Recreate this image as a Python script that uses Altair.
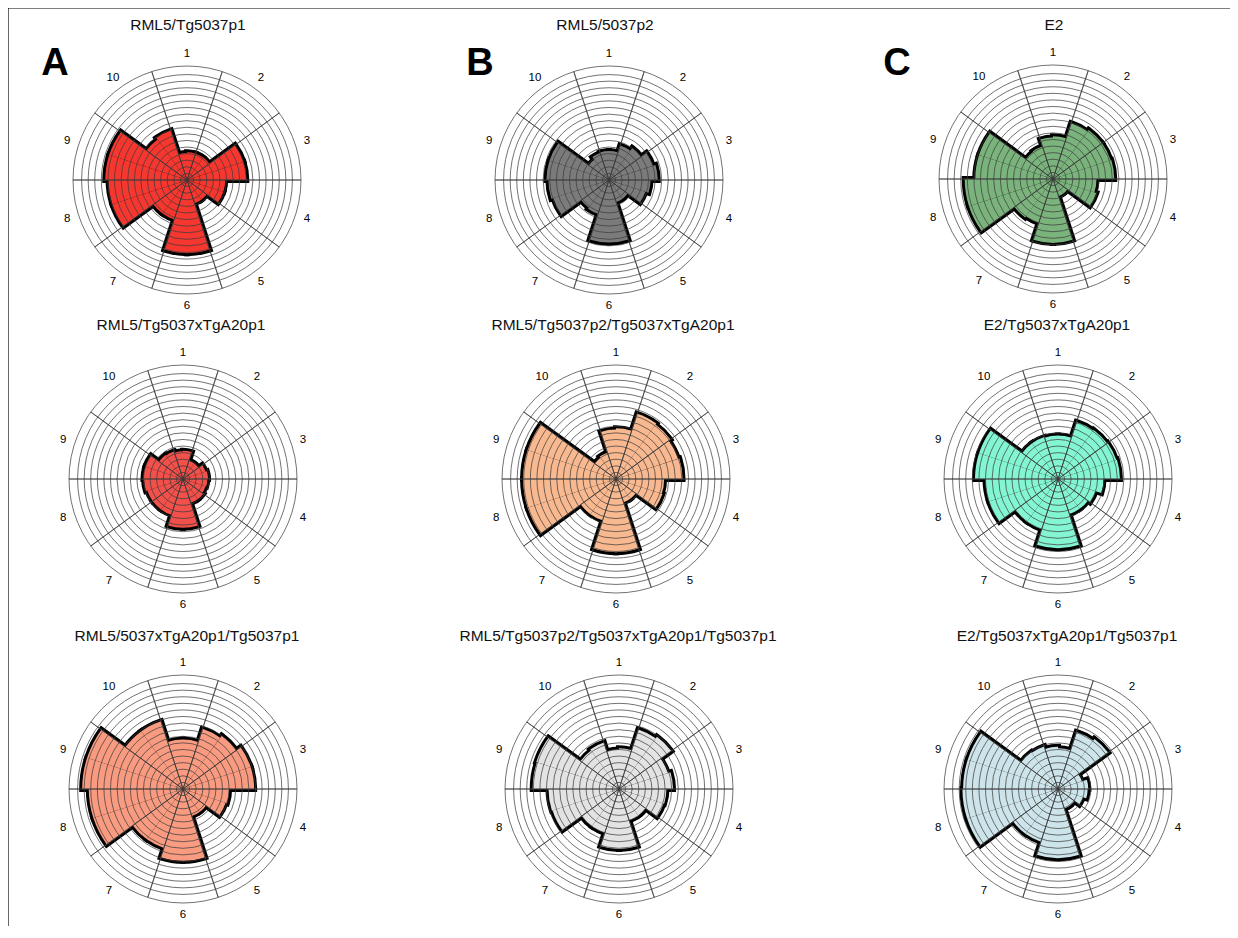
import math
import altair as alt
import pandas as pd

# ---------------- data ----------------
TITLES = [
    "RML5/Tg5037p1", "RML5/5037p2", "E2",
    "RML5/Tg5037xTgA20p1", "RML5/Tg5037p2/Tg5037xTgA20p1", "E2/Tg5037xTgA20p1",
    "RML5/5037xTgA20p1/Tg5037p1", "RML5/Tg5037p2/Tg5037xTgA20p1/Tg5037p1", "E2/Tg5037xTgA20p1/Tg5037p1",
]
COLORS = [
    "#f5372f", "#7b7b7b", "#7ab37c",
    "#f2504a", "#f9b990", "#84f5d2",
    "#f99b80", "#e3e3e3", "#cde5ea",
]
SECTOR_LABELS = ["1", "2", "3", "4", "5", "6", "7", "8", "9", "10"]

# half-sector radii (grid-ring units), two per sector, sector 1 first (clockwise from top)
V_A1 = [4.1, 4.2, 4.2, 4.2, 9.0, 9.0, 5.8, 5.8, 3.7, 3.7, 11.1, 11.1, 6.3, 6.3, 11.9, 11.9, 12.4, 12.4, 7.6, 7.9]
V_B1 = [4.4, 4.4, 5.5, 6.0, 7.0, 7.4, 6.3, 5.8, 3.5, 3.5, 9.5, 9.5, 5.4, 5.2, 8.9, 9.2, 9.5, 9.5, 3.8, 4.3]
V_C1 = [6.3, 6.5, 8.9, 9.2, 9.2, 9.3, 6.6, 6.9, 2.7, 2.7, 9.7, 9.7, 7.0, 7.2, 13.4, 13.4, 11.8, 11.8, 5.1, 5.2]
V_A2 = [4.2, 4.3, 2.9, 2.9, 3.6, 3.8, 3.7, 3.6, 3.8, 3.8, 7.4, 7.4, 5.7, 5.7, 5.7, 5.9, 6.0, 6.0, 4.5, 4.4]
V_B2 = [7.5, 7.7, 10.4, 10.2, 9.9, 10.1, 7.3, 7.4, 3.7, 3.7, 11.1, 11.1, 6.6, 6.6, 14.1, 14.1, 14.1, 14.1, 4.0, 4.2]
V_C2 = [6.6, 6.6, 9.1, 9.2, 9.3, 9.4, 6.9, 6.0, 5.6, 5.6, 10.5, 10.5, 8.0, 8.0, 11.0, 11.0, 12.6, 12.6, 6.7, 6.7]
V_A3 = [7.5, 7.5, 9.6, 10.0, 10.8, 10.8, 7.0, 6.8, 4.3, 4.3, 10.9, 10.9, 9.4, 9.4, 14.3, 14.3, 15.3, 15.3, 10.8, 10.8]
V_B3 = [6.0, 6.2, 9.5, 9.8, 7.8, 8.2, 7.2, 7.1, 5.0, 5.0, 9.1, 9.1, 7.0, 7.0, 10.6, 10.7, 13.1, 13.2, 7.2, 7.4]
V_C3 = [6.4, 6.2, 9.1, 9.4, 3.8, 4.6, 4.5, 4.0, 3.1, 3.1, 10.5, 10.5, 8.4, 8.4, 14.5, 14.5, 14.4, 14.4, 6.9, 6.8]
VALUES = [V_A1, V_B1, V_C1, V_A2, V_B2, V_C2, V_A3, V_B3, V_C3]

RINGS = [1, 2, 3, 4, 5, 6, 7, 8, 9, 10, 11, 12, 13, 14, 15, 16, 17.3]
R_MAX = 17.3
PANEL_LETTERS = ["A", "B", "C"]

# ---------------- layout (pixels inside the chart) ----------------
OFF = 8
CENTERS = [(187, 180), (609, 180), (1053, 179),
           (183, 479), (616, 479), (1058, 479),
           (183, 789), (619, 789), (1058, 789)]
TITLE_POS = [(188, 25), (605, 25), (1054, 25),
             (181, 325), (613, 325), (1057, 325),
             (187, 636), (618, 636), (1067, 636)]
LETTER_POS = [(55, 64), (480, 64), (897, 64)]
R_PIX = 114
LABEL_R = 126
FONT = "Liberation Sans, Arial, Helvetica, sans-serif"
GRID = "#3a3a3a"

theta_scale = alt.Scale(domain=[0, 360], range=[0, 2 * math.pi])
radius_scale = alt.Scale(type="linear", domain=[0, R_MAX], range=[0, R_PIX], zero=True)

ring_df = pd.DataFrame({"ring": RINGS})
spoke_df = pd.DataFrame({"a": [18 + 36 * k for k in range(10)]})
label_df = pd.DataFrame({"lab": SECTOR_LABELS, "a": [36 * k for k in range(10)]})

layers = []
for i in range(9):
    cx, cy = CENTERS[i]
    cx -= OFF
    cy -= OFF
    vals = VALUES[i]
    bins = pd.DataFrame({
        "start": [-18 + 18 * j for j in range(20)],
        "end": [18 * j for j in range(20)],
        "r": vals,
    })
    enc = dict(
        theta=alt.Theta("start:Q", scale=theta_scale, stack=False),
        theta2=alt.Theta2("end:Q"),
        radius=alt.Radius("r:Q", scale=radius_scale, stack=False),
        x=alt.value(cx), y=alt.value(cy),
    )
    base = alt.Chart(bins)
    layers.append(base.mark_arc(fill=COLORS[i], stroke="black", strokeWidth=6,
                                strokeJoin="miter").encode(**enc))
    layers.append(base.mark_arc(fill=COLORS[i], strokeWidth=0).encode(**enc))
    layers.append(alt.Chart(ring_df).mark_arc(fillOpacity=0, stroke=GRID, strokeWidth=0.85,
                                              strokeOpacity=0.85).encode(
        theta=alt.value(0), theta2=alt.value(2 * math.pi),
        radius=alt.Radius("ring:Q", scale=radius_scale, stack=False),
        x=alt.value(cx), y=alt.value(cy)))
    layers.append(alt.Chart(spoke_df).mark_arc(fillOpacity=0, stroke=GRID, strokeWidth=0.85,
                                               strokeOpacity=0.85).encode(
        theta=alt.Theta("a:Q", scale=theta_scale, stack=False), theta2=alt.Theta2("a:Q"),
        radius=alt.value(R_PIX),
        x=alt.value(cx), y=alt.value(cy)))
    layers.append(alt.Chart(label_df).mark_text(fontSize=11.5, font=FONT, color="black",
                                                baseline="middle", align="center").encode(
        theta=alt.Theta("a:Q", scale=theta_scale, stack=False),
        radius=alt.value(LABEL_R),
        text="lab:N",
        x=alt.value(cx), y=alt.value(cy)))
    tx, ty = TITLE_POS[i]
    layers.append(alt.Chart(pd.DataFrame({"t": [TITLES[i]]})).mark_text(
        fontSize=15.5, font=FONT, color="#111", baseline="middle", align="center").encode(
        text="t:N", x=alt.value(tx - OFF), y=alt.value(ty - OFF)))

for k, letter in enumerate(PANEL_LETTERS):
    lx, ly = LETTER_POS[k]
    layers.append(alt.Chart(pd.DataFrame({"t": [letter]})).mark_text(
        fontSize=38, fontWeight="bold", font=FONT, color="black",
        baseline="middle", align="center").encode(
        text="t:N", x=alt.value(lx - OFF), y=alt.value(ly - OFF)))

# frame lines (top and left)
frame = pd.DataFrame({"d": [0]})
layers.append(alt.Chart(frame).mark_rule(color="black", strokeWidth=1.2).encode(
    x=alt.value(0), x2=alt.value(1240), y=alt.value(0)))
layers.append(alt.Chart(frame).mark_rule(color="black", strokeWidth=1.2).encode(
    x=alt.value(0), y=alt.value(0), y2=alt.value(940)))

chart = alt.layer(*layers).properties(
    width=1222, height=918, padding=0, autosize="none"
).configure_view(stroke=None)

chart.save("out.html", embed_options={"renderer": "svg", "actions": False})
